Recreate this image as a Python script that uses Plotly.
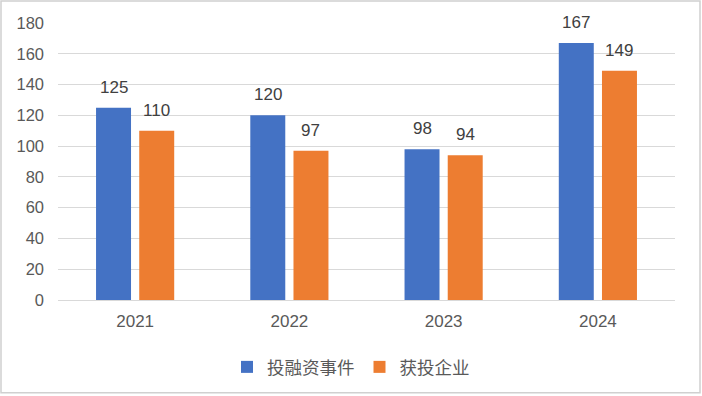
import plotly.graph_objects as go

years = ["2021", "2022", "2023", "2024"]
events = [125, 120, 98, 167]
companies = [110, 97, 94, 149]
series_names = ["投融资事件", "获投企业"]
colors = ["#4472C4", "#ED7D31"]

W, H = 702, 396
L, R, T, B = 58, 27, 23, 95
pw, ph = W - L - R, H - T - B

fig = go.Figure()
for name, vals, c in zip(series_names, [events, companies], colors):
    fig.add_trace(go.Bar(x=years, y=vals, name=name, marker=dict(color=c, line=dict(width=0)),
                         hoverinfo="skip"))

for vals, xs in [(events, -21.5), (companies, 21.5)]:
    for i, v in enumerate(vals):
        fig.add_annotation(x=i, y=v, xref="x", yref="y", text=str(v), showarrow=False,
                           xshift=xs, yanchor="bottom", yshift=9,
                           font=dict(size=17, color="#404040", family="Liberation Sans, Arial"))

def px_x(p):
    return (p - L) / pw

def px_y(p):
    return (H - B - p) / ph

fig.add_shape(type="rect", xref="paper", yref="paper",
              x0=px_x(1), x1=px_x(700), y0=px_y(394), y1=px_y(1),
              line=dict(color="#D0D0D0", width=1.5), fillcolor="rgba(0,0,0,0)", layer="below")

fig.update_layout(
    width=W, height=H,
    margin=dict(l=L, r=R, t=T, b=B),
    paper_bgcolor="white", plot_bgcolor="white",
    barmode="group", bargap=0.44, bargroupgap=0.19,
    font=dict(family="Liberation Sans, Arial, Noto Sans CJK SC", size=17, color="#595959"),
    showlegend=True,
    legend=dict(orientation="h", x=px_x(351), xanchor="center", y=px_y(367), yanchor="middle",
                font=dict(size=17.5, family="Noto Sans CJK SC", color="#595959"),
                itemwidth=30, tracegroupgap=0),
    xaxis=dict(type="category", categoryorder="array", categoryarray=years,
               range=[-0.5, len(years) - 0.5],
               showgrid=False, showline=False, ticks="", ticklabelstandoff=9,
               tickfont=dict(size=17, color="#595959")),
    yaxis=dict(range=[0, 180], dtick=20, showgrid=True, gridcolor="#D9D9D9", gridwidth=1,
               zeroline=True, zerolinecolor="#D9D9D9", zerolinewidth=1,
               showline=False, ticks="", ticklabelstandoff=13,
               tickfont=dict(size=16.5, color="#595959")),
)

fig.write_html("out.html", config={"displayModeBar": False},
               post_script="document.body.style.margin='0';document.body.style.padding='0';")
